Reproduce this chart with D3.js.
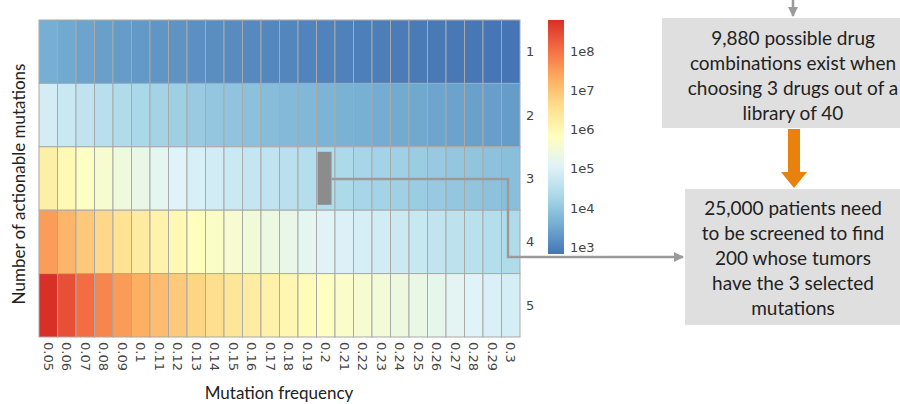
<!DOCTYPE html>
<html>
<head>
<meta charset="utf-8">
<script src="https://cdn.jsdelivr.net/npm/d3@7"></script>
<style>
  body { margin: 0; background: #fff; }
  svg { display: block; }
</style>
</head>
<body>
<div id="chart"></div>
<script>
// mutation frequencies (columns) and number of actionable mutations (rows)
const freqs = ["0.05","0.06","0.07","0.08","0.09","0.1","0.11","0.12","0.13","0.14","0.15","0.16","0.17","0.18","0.19","0.2","0.21","0.22","0.23","0.24","0.25","0.26","0.27","0.28","0.29","0.3"];
const rows = [1, 2, 3, 4, 5];

// patients to screen, one array per row
const row1 = [4000, 3333, 2857, 2500, 2222, 2000, 1818, 1667, 1538, 1429, 1333, 1250, 1176, 1111, 1053, 1000, 952, 909, 870, 833, 800, 769, 741, 714, 690, 667];
const row2 = [80000, 55556, 40816, 31250, 24691, 20000, 16529, 13889, 11834, 10204, 8889, 7813, 6920, 6173, 5540, 5000, 4535, 4132, 3781, 3472, 3200, 2959, 2743, 2551, 2378, 2222];
const row3 = [1600000, 925926, 583090, 390625, 274348, 200000, 150263, 115741, 91033, 72886, 59259, 48828, 40708, 34294, 29159, 25000, 21596, 18783, 16440, 14468, 12800, 11380, 10161, 9111, 8200, 7407];
const row4 = [32000000, 15432099, 8329859, 4882813, 3048316, 2000000, 1366027, 964506, 700254, 520616, 395062, 305176, 239459, 190523, 153470, 125000, 102837, 85379, 71478, 60282, 51200, 43770, 37635, 32541, 28275, 24691];
const row5 = [640000000, 257201646, 118997986, 61035156, 33870178, 20000000, 12418427, 8037551, 5386569, 3718686, 2633745, 1907349, 1408582, 1058461, 807737, 625000, 489700, 388086, 310774, 251175, 204800, 168346, 139389, 116218, 97500, 82305];

const legendTicks = [1e3, 1e4, 1e5, 1e6, 1e7, 1e8];
const legendLabels = ["1e3", "1e4", "1e5", "1e6", "1e7", "1e8"];
const palette = ["#4575b4", "#74add1", "#abd9e9", "#e0f3f8", "#ffffbf", "#fee090", "#fdae61", "#f46d43", "#d73027"];

const cells = [];
[row1, row2, row3, row4, row5].forEach((vals, i) => {
  vals.forEach((v, j) => cells.push({ row: rows[i], freq: freqs[j], value: v }));
});

const W = 900, H = 404;
const svg = d3.select("#chart").append("svg")
  .attr("width", W).attr("height", H);

const x = d3.scaleBand().domain(freqs).range([39, 520]);
const y = d3.scaleBand().domain(rows).range([20, 337]);

const vmin = d3.min(cells, d => d.value), vmax = d3.max(cells, d => d.value);
const logScale = d3.scaleLog().domain([vmin, vmax]).range([0, 1]);
const colorRamp = d3.scaleLinear()
  .domain(d3.range(palette.length).map(i => i / (palette.length - 1)))
  .range(palette)
  .interpolate(d3.interpolateRgb);
const color = v => colorRamp(logScale(v));

// heatmap cells
svg.append("g").selectAll("rect")
  .data(cells).enter()
  .append("rect")
  .attr("x", d => x(d.freq))
  .attr("y", d => y(d.row))
  .attr("width", x.bandwidth())
  .attr("height", y.bandwidth())
  .attr("fill", d => color(d.value))
  .attr("stroke", "#a9a9a9")
  .attr("stroke-width", 1);

const tickFont = "DejaVu Sans, sans-serif";

// x tick labels (rotated)
svg.append("g").selectAll("text")
  .data(freqs).enter()
  .append("text")
  .attr("transform", d => "translate(" + (x(d) + x.bandwidth() / 2) + ",342) rotate(90)")
  .attr("dy", "0.35em")
  .style("font-family", tickFont)
  .style("font-size", "13px")
  .style("fill", "#444")
  .text(d => d);

// row labels on right
svg.append("g").selectAll("text")
  .data(rows).enter()
  .append("text")
  .attr("x", 526)
  .attr("y", d => y(d) + y.bandwidth() / 2)
  .attr("dy", "0.35em")
  .style("font-family", tickFont)
  .style("font-size", "13px")
  .style("fill", "#444")
  .text(d => d);

// axis titles
const titleFont = "Lato, sans-serif";
svg.append("text")
  .attr("x", 279).attr("y", 399)
  .attr("text-anchor", "middle")
  .style("font-family", titleFont)
  .style("font-size", "17px")
  .style("fill", "#222")
  .text("Mutation frequency");

svg.append("text")
  .attr("transform", "translate(25,184) rotate(-90)")
  .attr("text-anchor", "middle")
  .style("font-family", titleFont)
  .style("font-size", "17px")
  .style("fill", "#222")
  .text("Number of actionable mutations");

// colour legend
const legY = d3.scaleLog().domain([vmin, vmax]).range([254, 20]);
const defs = svg.append("defs");
const grad = defs.append("linearGradient")
  .attr("id", "legGrad")
  .attr("x1", 0).attr("y1", 1).attr("x2", 0).attr("y2", 0);
palette.forEach((c, i) => {
  grad.append("stop")
    .attr("offset", (i / (palette.length - 1) * 100) + "%")
    .attr("stop-color", c);
});
svg.append("rect")
  .attr("x", 548).attr("y", 20)
  .attr("width", 16).attr("height", 234)
  .attr("fill", "url(#legGrad)");

svg.append("g").selectAll("text")
  .data(legendTicks).enter()
  .append("text")
  .attr("x", 570)
  .attr("y", d => legY(d))
  .attr("dy", "0.35em")
  .style("font-family", tickFont)
  .style("font-size", "13px")
  .style("fill", "#444")
  .text((d, i) => legendLabels[i]);

// highlighted cell marker (freq 0.2, 3 mutations)
const mx = x("0.2") + 1, my = y(3) + 5;
svg.append("rect")
  .attr("x", mx).attr("y", my)
  .attr("width", 14).attr("height", 53)
  .attr("fill", "#8c8c8c");

// connector arrow
defs.append("marker")
  .attr("id", "grayHead")
  .attr("viewBox", "0 0 10 10")
  .attr("refX", 9).attr("refY", 5)
  .attr("markerWidth", 4).attr("markerHeight", 4)
  .attr("orient", "auto")
  .append("path").attr("d", "M0,0L10,5L0,10Z").attr("fill", "#9a9a9a");

svg.append("path")
  .attr("d", "M" + (mx + 14) + ",179H508V257H683")
  .attr("fill", "none")
  .attr("stroke", "#9a9a9a")
  .attr("stroke-width", 2.5)
  .attr("marker-end", "url(#grayHead)");

// top arrow into box 1
svg.append("path")
  .attr("d", "M793,0V16")
  .attr("stroke", "#9a9a9a")
  .attr("stroke-width", 2.5)
  .attr("marker-end", "url(#grayHead)");

// boxes
const boxFont = "Lato, sans-serif";
svg.append("rect").attr("x", 662).attr("y", 18).attr("width", 240).attr("height", 110).attr("fill", "#dfdfdf");
svg.append("rect").attr("x", 685).attr("y", 189).attr("width", 217).attr("height", 136).attr("fill", "#dfdfdf");

const box1Lines = ["9,880 possible drug", "combinations exist when", "choosing 3 drugs out of a", "library of 40"];
const box2Lines = ["25,000 patients need", "to be screened to find", "200 whose tumors", "have the 3 selected", "mutations"];

svg.append("g").selectAll("text")
  .data(box1Lines).enter()
  .append("text")
  .attr("x", 793)
  .attr("y", (d, i) => 38 + i * 25)
  .attr("dy", "0.35em")
  .attr("text-anchor", "middle")
  .style("font-family", boxFont)
  .style("font-size", "19px")
  .style("fill", "#222")
  .text(d => d);

svg.append("g").selectAll("text")
  .data(box2Lines).enter()
  .append("text")
  .attr("x", 793)
  .attr("y", (d, i) => 208 + i * 25.2)
  .attr("dy", "0.35em")
  .attr("text-anchor", "middle")
  .style("font-family", boxFont)
  .style("font-size", "19px")
  .style("fill", "#222")
  .text(d => d);

// orange arrow between boxes
svg.append("path")
  .attr("d", "M788,129H800V172H807L794,188L781,172H788Z")
  .attr("fill", "#e8820c");
</script>
</body>
</html>
